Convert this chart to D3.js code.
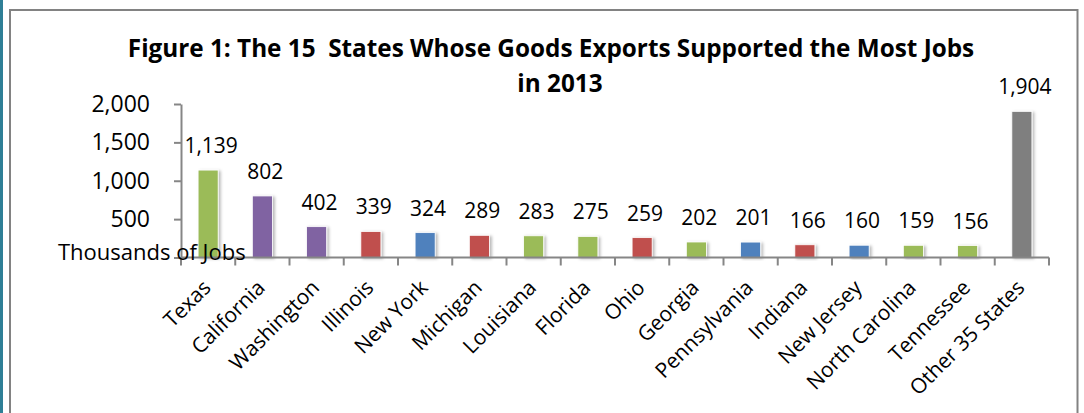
<!DOCTYPE html>
<html>
<head>
<meta charset="utf-8">
<script src="https://cdn.jsdelivr.net/npm/d3@7"></script>
<style>
body { margin: 0; background: #fff; }
#container { width: 1084px; height: 413px; }
svg { display: block; font-family: "Open Sans", sans-serif; }
</style>
</head>
<body>
<div id="container"></div>
<script>
const states = ["Texas", "California", "Washington", "Illinois", "New York", "Michigan", "Louisiana",
    "Florida", "Ohio", "Georgia", "Pennsylvania", "Indiana", "New Jersey", "North Carolina",
    "Tennessee", "Other 35 States"];
const jobs = [1139, 802, 402, 339, 324, 289, 283, 275, 259, 202, 201, 166, 160, 159, 156, 1904];
const groups = ["A", "B", "B", "C", "D", "C", "A", "A", "C", "A", "D", "C", "D", "A", "A", "E"];
const yTicks = [0, 500, 1000, 1500, 2000];
const titleLines = ["Figure 1: The 15  States Whose Goods Exports Supported the Most Jobs", "in 2013"];
const yAxisTitle = "Thousands of Jobs";

const width = 1084, height = 413;
const data = states.map((s, i) => ({ state: s, jobs: jobs[i], group: groups[i] }));

const svg = d3.create("svg")
    .attr("width", width)
    .attr("height", height)
    .attr("viewBox", `0 0 ${width} ${height}`)
    .attr("xmlns", "http://www.w3.org/2000/svg");

// soft glow under the bars, like the excel shadow
const defs = svg.append("defs");
defs.append("filter").attr("id", "shadow")
    .attr("x", "-50%").attr("y", "-20%").attr("width", "200%").attr("height", "140%")
    .append("feDropShadow")
    .attr("dx", 2).attr("dy", 1).attr("stdDeviation", 1.6)
    .attr("flood-color", "#000").attr("flood-opacity", 0.28);

// page edge + frame
svg.append("rect").attr("x", 0).attr("y", 0).attr("width", 3).attr("height", height).attr("fill", "#2f7f96");
svg.append("rect").attr("x", 10).attr("y", 10).attr("width", 1067.5).attr("height", 420)
    .attr("fill", "none").attr("stroke", "#828282").attr("stroke-width", 2);

const x = d3.scaleBand().domain(states).range([181, 1049]).paddingInner(0.63).paddingOuter(0.315);
const y = d3.scaleLinear().domain([0, 2000]).range([257.5, 104]);
const color = d3.scaleOrdinal().domain(["A", "B", "C", "D", "E"])
    .range(["#9bbb59", "#8064a2", "#c0504d", "#4f81bd", "#7f7f7f"]);

// title
svg.append("g").selectAll("text")
    .data(titleLines)
    .join("text")
    .attr("x", (d, i) => i ? 560 : 551)
    .attr("y", (d, i) => 57 + i * 35)
    .attr("text-anchor", "middle")
    .attr("font-weight", "bold")
    .attr("font-size", 24.3)
    .attr("fill", "#000")
    .style("white-space", "pre")
    .text(d => d);

// bars
svg.append("g")
    .selectAll("rect")
    .data(data)
    .join("rect")
    .attr("x", d => x(d.state))
    .attr("y", d => y(d.jobs))
    .attr("width", x.bandwidth())
    .attr("height", d => y(0) - y(d.jobs))
    .attr("fill", d => color(d.group))
    .attr("stroke", "#fff")
    .attr("stroke-width", 0.8)
    .attr("filter", "url(#shadow)");

// value labels
svg.append("g")
    .selectAll("text")
    .data(data)
    .join("text")
    .attr("x", d => x(d.state) + x.bandwidth() / 2 + 3)
    .attr("y", d => y(d.jobs) - 17)
    .attr("text-anchor", "middle")
    .attr("font-size", 21)
    .attr("fill", "#000")
    .text(d => d3.format(",")(d.jobs));

// y axis
const yAxis = svg.append("g")
    .attr("transform", `translate(181,0)`)
    .call(d3.axisLeft(y).tickValues(yTicks).tickSize(7).tickSizeOuter(0).tickPadding(24)
        .tickFormat(d => d ? d3.format(",")(d) : ""));
yAxis.select(".domain").attr("stroke", "#868686").attr("stroke-width", 2);
yAxis.selectAll(".tick line").attr("stroke", "#868686").attr("stroke-width", 2);
yAxis.selectAll(".tick text").attr("font-size", 23).attr("font-family", "Open Sans, sans-serif").attr("fill", "#000");

// x axis (ticks between categories)
const step = x.step();
const edges = d3.range(states.length + 1).map(i => x.range()[0] + i * step);
const xAxis = svg.append("g");
xAxis.append("line")
    .attr("x1", x.range()[0]).attr("x2", x.range()[1])
    .attr("y1", y(0)).attr("y2", y(0))
    .attr("stroke", "#868686").attr("stroke-width", 2);
xAxis.selectAll(".tk")
    .data(edges)
    .join("line")
    .attr("class", "tk")
    .attr("x1", d => d).attr("x2", d => d)
    .attr("y1", y(0)).attr("y2", y(0) + 8)
    .attr("stroke", "#868686").attr("stroke-width", 2);
xAxis.selectAll("text")
    .data(states)
    .join("text")
    .attr("transform", d => `translate(${x(d) + x.bandwidth() / 2 + 4},289) rotate(-45)`)
    .attr("text-anchor", "end")
    .attr("font-size", 21)
    .attr("fill", "#000")
    .text(d => d);

// axis title sits on top of the first bar
svg.append("text")
    .attr("x", 58)
    .attr("y", 260)
    .attr("font-size", 22)
    .attr("fill", "#000")
    .text(yAxisTitle);

document.getElementById("container").append(svg.node());
</script>
</body>
</html>
